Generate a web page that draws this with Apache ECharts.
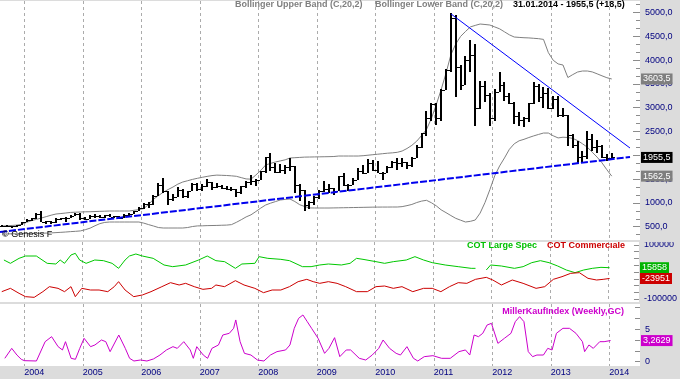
<!DOCTYPE html>
<html>
<head>
<meta charset="utf-8">
<title>Silver monthly</title>
<script src="https://cdn.jsdelivr.net/npm/echarts@6.0.0/dist/echarts.min.js"></script>
<style>
html,body{margin:0;padding:0;background:#DCDCDC;}
#chart{width:680px;height:379px;}
</style>
</head>
<body>
<div id="chart"></div>
<script>
// ---------- DATA ----------
const firstYear = 2003, firstMonth = 8;   // first monthly bar: Aug 2003, last: Jan 2014
const yearTicks = [2004, 2005, 2006, 2007, 2008, 2009, 2010, 2011, 2012, 2013, 2014];
const priceTicks = [500, 1000, 1500, 2000, 2500, 3000, 3500, 4000, 4500, 5000];
const cotTicks = [-100000, 100000];
const millerTicks = [0, 5];

const opens = [510,522,515,505,540,
597,633,675,775,605,610,590,660,675,690,730,765,
682,670,735,715,700,740,705,720,680,750,770,830,
890,980,970,1150,1380,1240,1080,1120,1280,1150,1240,1400,
1290,1360,1430,1340,1360,1320,1290,1290,1220,1360,1440,1460,
1480,1680,1960,1760,1640,1690,1760,1770,1370,1270,960,1020,
1130,1260,1300,1310,1250,1570,1380,1380,1490,1660,1630,1840,
1690,1620,1630,1750,1860,1840,1860,1800,1940,2180,2460,2790,
3080,2790,3380,3790,4880,3860,3480,4000,4100,3000,3450,3260,
2780,3340,3480,3240,3100,2830,2750,2780,3090,3460,3230,3300,
2990,3180,2840,2840,2420,2220,1960,1980,2350,2170,2190,1960,
1937];
const highs = [535,535,520,545,600,
665,690,780,830,620,625,680,690,700,750,785,790,
700,745,760,740,740,760,730,730,760,780,835,910,
990,1010,1160,1420,1520,1250,1180,1340,1300,1260,1420,1420,
1400,1500,1440,1420,1380,1360,1340,1300,1360,1460,1580,1500,
1680,1970,2040,1840,1820,1800,1940,1780,1400,1280,1050,1140,
1270,1460,1400,1320,1570,1620,1400,1530,1740,1800,1930,1900,
1880,1650,1780,1880,1940,1950,1870,1960,2210,2460,2930,3100,
3100,3400,3820,4980,4940,3900,4080,4420,4340,3570,3560,3300,
3400,3750,3530,3300,3130,2910,2810,3090,3540,3500,3440,3410,
3250,3250,2990,2840,2440,2300,2090,2510,2440,2330,2220,2030,
2050];
const lows = [490,495,480,498,535,
590,620,665,590,550,560,585,640,605,690,725,640,
640,660,690,690,690,695,685,660,675,735,760,820,
880,900,960,1150,1200,950,1040,1120,1100,1100,1240,1260,
1250,1330,1270,1320,1290,1270,1260,1130,1190,1320,1380,1360,
1480,1620,1680,1630,1620,1600,1680,1200,1040,840,880,960,
1090,1230,1210,1170,1240,1350,1250,1370,1480,1610,1630,1670,
1620,1480,1630,1740,1700,1750,1720,1750,1940,2150,2400,2720,
2640,2720,3380,3750,3230,3370,3480,3760,2610,2980,3120,2620,
2730,3340,3150,3070,2660,2610,2600,2710,3080,3110,3000,2970,
2970,2810,2810,2200,2160,1820,1860,1930,2090,2040,1940,1880,
1900];
const closes = [522,515,505,540,597,
633,675,775,605,610,590,660,675,690,730,765,682,
670,735,715,700,740,705,720,680,750,770,830,890,
980,970,1150,1380,1240,1080,1120,1280,1150,1240,1400,1290,
1360,1430,1340,1360,1320,1290,1290,1220,1360,1440,1460,1480,
1680,1960,1760,1640,1690,1760,1770,1370,1270,960,1020,1130,
1260,1300,1310,1250,1570,1380,1380,1490,1660,1630,1840,1690,
1620,1630,1750,1860,1840,1860,1800,1940,2180,2460,2790,3080,
2790,3380,3790,4880,3860,3480,4000,4100,3000,3450,3260,2780,
3340,3480,3240,3100,2830,2750,2780,3090,3460,3230,3300,2990,
3180,2840,2840,2420,2220,1960,1980,2350,2170,2190,1960,1937,
1955.5];

const upperBand = [515,521,527,534,552,
592,628,655,683,712,742,767,777,788,800,805,809,
813,815,819,823,826,830,830,830,830,830,845,859,
882,968,1078,1151,1225,1281,1334,1395,1439,1466,1494,1517,
1538,1557,1574,1584,1580,1576,1569,1559,1531,1504,1499,1586,
1681,1796,1830,1859,1882,1905,1943,1950,1956,1962,1964,1966,
1968,1970,1972,1975,1985,1985,1985,1985,1985,1992,2002,2013,
2023,2034,2044,2052,2063,2090,2143,2210,2298,2416,2542,2773,
3063,3378,3723,4111,4338,4498,4601,4697,4729,4758,4748,4737,
4697,4657,4594,4531,4485,4477,4470,4466,4458,4450,4435,4157,
3996,3920,3897,3634,3695,3750,3771,3771,3752,3712,3670,3630,
3603.5];
const lowerBand = [347,349,351,353,355,
357,359,361,363,366,370,376,382,389,397,403,412,
437,470,520,565,590,599,599,599,599,599,599,599,
576,544,515,483,473,473,473,473,473,483,504,517,
519,523,525,527,531,534,544,592,647,706,750,819,
891,956,994,1027,1061,1074,1082,1029,962,926,895,893,
893,893,893,895,897,899,901,903,905,907,909,911,
912,913,913,914,914,922,943,968,1008,1038,1055,1004,
939,855,796,735,676,637,599,613,641,786,1008,1279,
1571,1777,1945,2126,2242,2305,2336,2374,2408,2439,2468,2468,
2410,2365,2380,2374,2355,2309,2242,2170,2065,1962,1842,1697,
1562.5];

const trendUpper = [[2011.294, 4970], [2014.354, 2153]];
const trendLower = [[2003.585, 389], [2014.354, 1964]];

const largeSpecT = [2003.652,2003.763,2003.911,2004.022,2004.207,2004.393,2004.541,2004.615,2004.689,2004.8,2004.874,2004.948,
2005.059,2005.207,2005.356,2005.504,2005.615,2005.726,2005.8,2005.911,2006.022,2006.207,2006.393,2006.541,2006.763,2006.985,
2007.133,2007.281,2007.43,2007.615,2007.726,2007.948,2008.022,2008.17,2008.393,2008.541,2008.763,2008.911,2009.059,2009.207,
2009.43,2009.578,2009.689,2009.8,2010.022,2010.17,2010.319,2010.541,2010.689,2010.837,2010.985,2011.207,2011.43,2011.652,
2011.726,2011.82,2011.911,2011.985,2012.17,2012.393,2012.541,2012.689,2012.837,2012.985,2013.133,2013.281,2013.43,2013.578,
2013.726,2013.874,2014.022];
const largeSpecV = [44444,32100,50617,59259,59259,32100,29630,44444,32100,62963,69136,44444,
32100,44444,41975,32100,13580,44444,59259,66667,59259,50617,25926,19753,25926,44444,
59259,41975,38272,13580,29630,32100,56790,50617,46914,41975,19753,19753,25926,29630,
25926,32100,50617,46914,38272,32100,38272,44444,56790,44444,34568,25926,19753,13580,
13580,null,7407,25926,22222,13580,19753,34568,41975,34568,22222,7407,-2469,7407,
13580,17284,15858];

const commercialT = [2003.615,2003.763,2003.911,2004.022,2004.17,2004.319,2004.43,2004.578,2004.689,2004.8,2004.874,2004.985,
2005.133,2005.281,2005.43,2005.541,2005.615,2005.726,2005.874,2006.022,2006.17,2006.356,2006.504,2006.652,2006.763,2006.911,
2007.059,2007.207,2007.281,2007.43,2007.615,2007.763,2007.948,2008.096,2008.244,2008.393,2008.541,2008.689,2008.837,2008.948,
2009.059,2009.207,2009.356,2009.504,2009.689,2009.874,2010.022,2010.17,2010.319,2010.467,2010.652,2010.837,2010.985,2011.133,
2011.281,2011.43,2011.578,2011.726,2011.911,2012.022,2012.17,2012.356,2012.541,2012.763,2012.911,2013.059,2013.207,2013.356,
2013.504,2013.652,2013.8,2013.911,2014.022];
const commercialV = [-72840,-60494,-79012,-91358,-93827,-72840,-54321,-60494,-72840,-54321,-91358,-60494,
-66667,-66667,-72840,-54321,-35802,-66667,-91358,-85185,-72840,-54321,-39506,-48148,-41975,-54321,
-64198,-60494,-48148,-54321,-32099,-48148,-60494,-76543,-66667,-66667,-54321,-35802,-27160,-35802,
-41975,-35802,-41975,-54321,-72840,-72840,-54321,-51852,-60494,-54321,-72840,-60494,-60494,-72840,
-54321,-39506,-41975,-27160,-19753,-29630,-48148,-29630,-41975,-60494,-54321,-27160,-17284,-4938,
-2469,-23457,-29630,-27160,-23951];

const millerT = [2003.667,2003.785,2003.874,2003.948,2004.0,2004.207,2004.356,2004.467,2004.578,2004.652,2004.704,2004.8,2004.874,
2004.948,2005.022,2005.133,2005.207,2005.319,2005.393,2005.467,2005.615,2005.726,2005.8,2005.874,2005.985,2006.096,2006.207,
2006.319,2006.43,2006.541,2006.615,2006.726,2006.837,2006.889,2006.948,2007.059,2007.133,2007.207,2007.319,2007.393,2007.504,
2007.578,2007.615,2007.689,2007.763,2007.874,2007.985,2008.096,2008.207,2008.319,2008.467,2008.541,2008.615,2008.689,2008.763,
2008.837,2008.911,2009.022,2009.133,2009.207,2009.304,2009.393,2009.504,2009.578,2009.726,2009.837,2009.948,2010.059,2010.133,
2010.244,2010.356,2010.43,2010.541,2010.652,2010.726,2010.837,2010.985,2011.133,2011.281,2011.43,2011.541,2011.615,2011.689,
2011.763,2011.837,2011.911,2011.985,2012.022,2012.096,2012.207,2012.319,2012.393,2012.467,2012.541,2012.615,2012.689,2012.763,
2012.874,2012.948,2013.022,2013.096,2013.207,2013.319,2013.43,2013.541,2013.578,2013.652,2013.726,2013.837,2013.911,2014.022];
const millerV = [0.52,2.06,1.03,0.37,0.16,0.11,3.09,3.86,2.32,1.81,3.09,0.52,0.37,
2.06,3.61,2.32,2.58,3.35,3.09,1.55,4.12,2.06,0.52,0.11,0.26,0.11,0.42,
1.03,1.81,2.32,2.06,3.09,1.81,0.52,2.32,1.03,0.52,2.06,2.58,4.12,4.38,
5.15,6.44,3.09,1.29,1.03,0.26,0.11,1.03,1.55,1.81,2.58,5.15,6.69,7.21,
6.18,5.15,3.61,1.29,2.06,3.71,0.78,1.81,1.81,0.52,0.26,1.03,2.06,3.35,
2.06,1.29,1.03,2.32,0.52,0.11,0.78,0.93,0.52,0.52,1.55,1.81,1.03,4.12,
3.86,4.38,5.66,5.92,4.89,2.83,3.61,4.38,6.18,6.95,6.18,1.55,0.78,1.03,
1.03,2.06,1.81,4.38,5.15,5.15,4.38,3.09,1.55,2.58,2.06,3.09,3.09,3.2629];

// ---------- LAYOUT / STYLE ----------
const X_MIN = 2003.5846, X_MAX = 2014.5248;
const FONT = 'Liberation Sans';
const NAVY = '#000080';
const BG = '#DCDCDC';

const barTime = opens.map((_, i) => firstYear + (firstMonth - 1 + i + 0.5) / 12);
const ohlc = opens.map((o, i) => [barTime[i], o, highs[i], lows[i], closes[i]]);
const pairs = (ts, vs) => ts.map((t, i) => [t, vs[i]]);

const fmtComma = (v, d) => v.toFixed(d).replace('.', ',');

function minorTicks(step, from, to) {
  const out = [];
  for (let v = from; v <= to + 1e-9; v += step) out.push(+v.toFixed(4));
  return out;
}

function xAxisFor(gi, withLabels) {
  return {
    type: 'value', gridIndex: gi, min: X_MIN, max: X_MAX,
    axisLine: { show: false },
    axisTick: { show: false, customValues: yearTicks },
    axisLabel: withLabels ? {
      show: true, customValues: yearTicks, formatter: v => String(Math.round(v)),
      align: 'left', margin: 2, color: NAVY, fontSize: 9, fontFamily: FONT
    } : { show: false },
    splitLine: { show: true, lineStyle: { color: '#ABABAB', type: [3, 3], width: 1 } }
  };
}

function yAxisFor(gi, min, max, labelVals, tickVals, fmt, showLabel, tickLen) {
  return {
    type: 'value', gridIndex: gi, position: 'right', min: min, max: max,
    axisLine: { show: false },
    splitLine: { show: false },
    axisTick: { show: true, inside: true, length: tickLen, customValues: tickVals, lineStyle: { color: '#8C8C8C' } },
    axisLabel: showLabel ? { show: true, customValues: labelVals, formatter: fmt, color: NAVY, fontSize: 9, fontFamily: FONT, margin: 5 }
                         : { show: false }
  };
}

// value tag in the right-hand axis strip, placed through the series' own y scale
function endTag(value, text, bg) {
  return {
    silent: true, symbol: ['none', 'none'], animation: false,
    lineStyle: { color: 'rgba(0,0,0,0)', width: 1, type: 'solid' },
    label: {
      show: true, position: 'end', distance: 1, formatter: text,
      color: '#FFFFFF', backgroundColor: bg, padding: [1, 2, 0, 2],
      fontSize: 9, fontFamily: FONT, lineHeight: 10
    },
    data: [{ yAxis: value }]
  };
}

const lastClose = closes[closes.length - 1];
const lastUpper = upperBand[upperBand.length - 1];
const lastLower = lowerBand[lowerBand.length - 1];
const lastSpec = largeSpecV[largeSpecV.length - 1];
const lastComm = commercialV[commercialV.length - 1];
const lastMiller = millerV[millerV.length - 1];

const chart = echarts.init(document.getElementById('chart'), null, { renderer: 'canvas' });

const option = {
  backgroundColor: BG,
  animation: false,
  grid: [
    { left: 0, top: 1, width: 640, height: 239, show: true, backgroundColor: '#FFFFFF', borderWidth: 0 },
    { left: 0, top: 242, width: 640, height: 60, show: true, backgroundColor: '#FFFFFF', borderWidth: 0 },
    { left: 0, top: 304, width: 640, height: 62, show: true, backgroundColor: '#FFFFFF', borderWidth: 0 }
  ],
  xAxis: [xAxisFor(0, false), xAxisFor(1, false), xAxisFor(2, true)],
  yAxis: [
    yAxisFor(0, 221, 5241.6, priceTicks, priceTicks, v => fmtComma(v, 1), true, 7),
    yAxisFor(0, 221, 5241.6, [], minorTicks(500 / 3, 500 / 3, 5200), null, false, 4),
    yAxisFor(1, -111111, 111111, cotTicks, minorTicks(25000, -100000, 100000), v => String(v), true, 5),
    yAxisFor(2, -0.664, 8.904, millerTicks, minorTicks(5 / 3, 0, 8.5), v => String(v), true, 5)
  ],
  series: [
    {
      name: 'Bollinger Upper Band', type: 'line', xAxisIndex: 0, yAxisIndex: 0, clip: false,
      data: pairs(barTime, upperBand), symbol: 'none', silent: true,
      lineStyle: { color: '#808080', width: 1 }, z: 2,
      markLine: endTag(lastUpper, fmtComma(lastUpper, 1), '#7F7F7F')
    },
    {
      name: 'Bollinger Lower Band', type: 'line', xAxisIndex: 0, yAxisIndex: 0, clip: false,
      data: pairs(barTime, lowerBand), symbol: 'none', silent: true,
      lineStyle: { color: '#808080', width: 1 }, z: 2,
      markLine: endTag(lastLower, fmtComma(lastLower, 1), '#7F7F7F')
    },
    {
      name: 'Price', type: 'custom', xAxisIndex: 0, yAxisIndex: 0, z: 3, silent: true,
      data: ohlc,
      encode: { x: 0, y: [1, 2, 3, 4] },
      renderItem: function (params, api) {
        const t = api.value(0);
        const pH = api.coord([t, api.value(2)]);
        const pL = api.coord([t, api.value(3)]);
        const pO = api.coord([t, api.value(1)]);
        const pC = api.coord([t, api.value(4)]);
        const xc = Math.round(pH[0]);
        const st = { fill: '#000000' };
        return {
          type: 'group', children: [
            { type: 'rect', shape: { x: xc - 1, y: Math.round(pH[1]), width: 2, height: Math.max(1, Math.round(pL[1]) - Math.round(pH[1])) }, style: st },
            { type: 'rect', shape: { x: xc - 3, y: Math.round(pO[1]), width: 2, height: 1 }, style: st },
            { type: 'rect', shape: { x: xc + 1, y: Math.round(pC[1]), width: 2, height: 1 }, style: st }
          ]
        };
      }
    },
    {
      name: 'Trend down', type: 'line', xAxisIndex: 0, yAxisIndex: 0, z: 4, silent: true, clip: false,
      data: trendUpper, symbol: 'none', lineStyle: { color: '#0000FF', width: 1 }
    },
    {
      name: 'Trend up', type: 'line', xAxisIndex: 0, yAxisIndex: 0, z: 4, silent: true, clip: false,
      data: trendLower, symbol: 'none', lineStyle: { color: '#0000EE', width: 2, type: [7, 2] },
      markLine: endTag(lastClose, fmtComma(lastClose, 1), '#000000')
    },
    {
      name: 'COT Large Spec', type: 'line', xAxisIndex: 1, yAxisIndex: 2, silent: true, clip: false,
      data: pairs(largeSpecT, largeSpecV), symbol: 'none', connectNulls: false,
      lineStyle: { color: '#00C800', width: 1 },
      markLine: endTag(lastSpec, String(lastSpec), '#00B400')
    },
    {
      name: 'COT Commerciale', type: 'line', xAxisIndex: 1, yAxisIndex: 2, silent: true, clip: false,
      data: pairs(commercialT, commercialV), symbol: 'none',
      lineStyle: { color: '#CC0000', width: 1 },
      markLine: endTag(lastComm, String(lastComm), '#CC0000')
    },
    {
      name: 'MillerKaufIndex', type: 'line', xAxisIndex: 2, yAxisIndex: 3, silent: true, clip: false,
      data: pairs(millerT, millerV), symbol: 'none',
      lineStyle: { color: '#CC00CC', width: 1 },
      markLine: endTag(lastMiller, fmtComma(lastMiller, 4), '#CC00CC')
    }
  ],
  graphic: [
    { type: 'text', left: 235, top: 0, z: 50, style: { text: 'Bollinger Upper Band (C,20,2)', fill: '#808080', fontSize: 9, fontWeight: 'bold', fontFamily: FONT } },
    { type: 'text', left: 375, top: 0, z: 50, style: { text: 'Bollinger Lower Band (C,20,2)', fill: '#808080', fontSize: 9, fontWeight: 'bold', fontFamily: FONT } },
    { type: 'text', left: 513, top: 0, z: 50, style: { text: '31.01.2014 - 1955,5 (+18,5)', fill: '#000000', fontSize: 9, fontWeight: 'bold', fontFamily: FONT } },
    { type: 'text', left: 2, top: 230, z: 50, style: { text: '\u00A9 Genesis F', fill: '#000000', fontSize: 9, fontFamily: FONT } },
    { type: 'text', right: 143, top: 241, z: 50, style: { text: 'COT Large Spec', fill: '#00C000', fontSize: 9, fontWeight: 'bold', fontFamily: FONT } },
    { type: 'text', right: 55, top: 241, z: 50, style: { text: 'COT Commerciale', fill: '#CC0000', fontSize: 9, fontWeight: 'bold', fontFamily: FONT } },
    { type: 'text', right: 56, top: 307, z: 50, style: { text: 'MillerKaufIndex (Weekly,GC)', fill: '#CC00CC', fontSize: 9, fontWeight: 'bold', fontFamily: FONT } },
    { type: 'rect', z: 100, shape: { x: 0, y: 240, width: 680, height: 2 }, style: { fill: BG } },
    { type: 'rect', z: 100, shape: { x: 0, y: 302, width: 680, height: 2 }, style: { fill: BG } }
  ]
};

chart.setOption(option);
</script>
</body>
</html>
